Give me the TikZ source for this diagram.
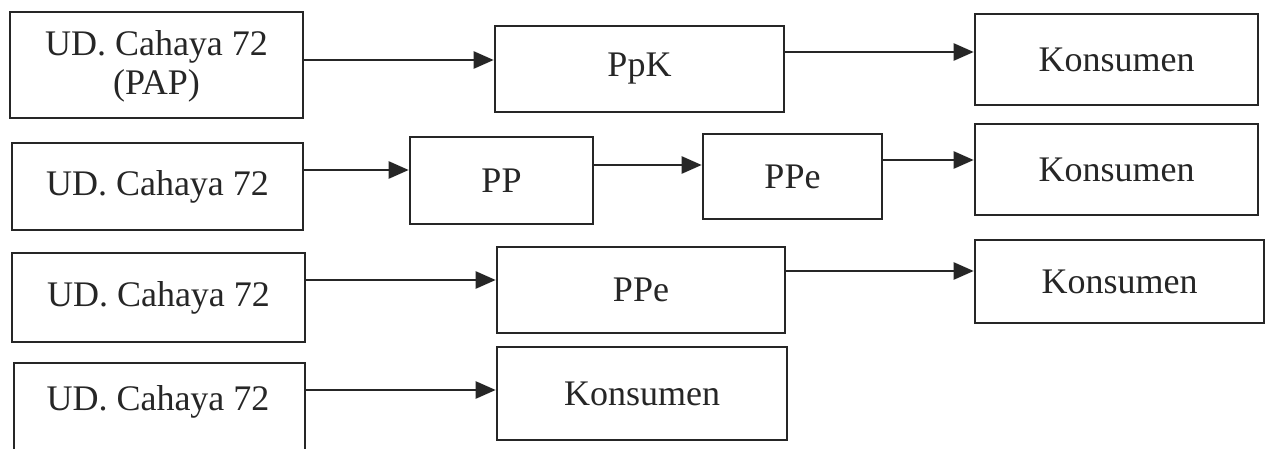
\documentclass[tikz,border=0pt]{standalone}
\usepackage{fontspec}
\setmainfont{Liberation Serif}
\usetikzlibrary{arrows.meta}
\begin{document}
\begin{tikzpicture}[x=1pt,y=-1pt,
  box/.style={draw=black!85, line width=2.6pt, inner sep=0pt, align=center,
    font=\fontsize{36}{39}\selectfont, text=black!85},
  arr/.style={draw=black!85, line width=2.4pt, -{Triangle[length=20pt,width=17pt]}}]
\useasboundingbox (0,0) rectangle (1266,448);
\clip (0,0) rectangle (1266,448);
\fill[white] (0,0) rectangle (1266,448);
% Row 1
\node[box, minimum width=293pt, minimum height=106pt] (a1) at (156.5,65) {\strut UD. Cahaya 72\\(PAP)};
\node[box, minimum width=289pt, minimum height=86pt] (ppk) at (639.5,69) {PpK};
\node[box, minimum width=283pt, minimum height=91pt] (k1) at (1116.5,59.5) {Konsumen};
% Row 2
\node[box, minimum width=291pt, minimum height=87pt] (a2) at (157.5,186.5) {UD. Cahaya 72};
\node[box, minimum width=183pt, minimum height=87pt] (pp) at (501.5,180.5) {PP};
\node[box, minimum width=179pt, minimum height=85pt] (ppe1) at (792.5,176.5) {PPe};
\node[box, minimum width=283pt, minimum height=91pt] (k2) at (1116.5,169.5) {Konsumen};
% Row 3
\node[box, minimum width=293pt, minimum height=89pt] (a3) at (158.5,297.5) {UD. Cahaya 72};
\node[box, minimum width=288pt, minimum height=86pt] (ppe2) at (641,290) {PPe};
\node[box, minimum width=289pt, minimum height=83pt] (k3) at (1119.5,281.5) {Konsumen};
% Row 4
\node[box, minimum width=291pt, minimum height=104pt] (a4) at (159.5,415) {};
\node[font=\fontsize{36}{39}\selectfont, text=black!85] (a4t) at (158,402) {UD. Cahaya 72};
\node[box, minimum width=290pt, minimum height=93pt] (k4) at (642,393.5) {Konsumen};
% Arrows
\draw[arr] (a1.east |- 0,60) -- (ppk.west |- 0,60);
\draw[arr] (ppk.east |- 0,52) -- (k1.west |- 0,52);
\draw[arr] (a2.east |- 0,170) -- (pp.west |- 0,170);
\draw[arr] (pp.east |- 0,165) -- (ppe1.west |- 0,165);
\draw[arr] (ppe1.east |- 0,160) -- (k2.west |- 0,160);
\draw[arr] (a3.east |- 0,280) -- (ppe2.west |- 0,280);
\draw[arr] (ppe2.east |- 0,271) -- (k3.west |- 0,271);
\draw[arr] (a4.east |- 0,390) -- (k4.west |- 0,390);
\end{tikzpicture}
\end{document}
